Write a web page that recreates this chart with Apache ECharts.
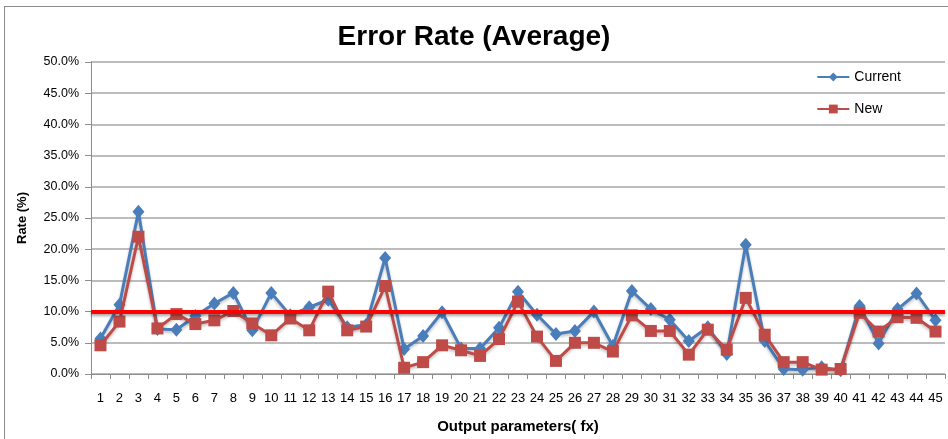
<!DOCTYPE html>
<html>
<head>
<meta charset="utf-8">
<script src="https://cdn.jsdelivr.net/npm/echarts@6/dist/echarts.min.js"></script>
<style>
  html, body { margin: 0; padding: 0; background: #fff; }
  #frame { position: absolute; left: 4px; top: 6px; width: 960px; height: 450px; border: 1px solid #8c8c8c; }
  #chart { position: absolute; left: 0; top: 0; width: 948px; height: 439px; }
</style>
</head>
<body>
<div id="frame"></div>
<div id="chart"></div>
<script>
// categories: output parameters 1..45
var categories = ['1','2','3','4','5','6','7','8','9','10','11','12','13','14','15','16','17','18','19','20','21','22','23','24','25','26','27','28','29','30','31','32','33','34','35','36','37','38','39','40','41','42','43','44','45'];

// error rate in %
var current = [5.7, 11.1, 26.0, 7.2, 7.1, 9.3, 11.3, 13.0, 7.0, 13.0, 9.4, 10.7, 11.9, 7.5, 7.9, 18.6, 4.0, 6.1, 9.9, 4.1, 4.1, 7.4, 13.2, 9.5, 6.4, 6.9, 10.0, 4.5, 13.3, 10.4, 8.7, 5.3, 7.5, 3.2, 20.7, 5.3, 0.8, 0.7, 1.1, 0.6, 10.9, 4.9, 10.4, 12.9, 8.6];
var newer   = [4.6, 8.4, 22.0, 7.3, 9.6, 8.0, 8.6, 10.1, 8.1, 6.2, 8.9, 7.0, 13.2, 7.0, 7.6, 14.1, 1.0, 1.9, 4.6, 3.8, 2.9, 5.6, 11.6, 6.0, 2.1, 5.0, 5.0, 3.6, 9.4, 6.9, 6.9, 3.1, 7.1, 3.9, 12.2, 6.3, 1.9, 1.9, 0.7, 0.8, 9.8, 6.8, 9.1, 9.0, 6.8];

var threshold = 10;

var font = '"Liberation Sans Narrow", "Arial Narrow", "Liberation Sans", Arial, sans-serif';

var chart = echarts.init(document.getElementById('chart'), null, { renderer: 'canvas' });
chart.setOption({
    animation: false,
    backgroundColor: 'transparent',
    title: {
        text: 'Error Rate (Average)',
        left: 'center',
        top: 23,
        padding: [0, 0, 0, 0],
        textStyle: { fontFamily: 'Liberation Sans, Arial, sans-serif', fontWeight: 'bold', fontSize: 28, color: '#000' }
    },
    legend: {
        orient: 'vertical',
        right: 42,
        top: 65,
        itemGap: 18,
        itemWidth: 32,
        itemHeight: 11,
        textStyle: { fontFamily: 'Liberation Sans, Arial, sans-serif', fontSize: 14, color: '#000' },
        data: ['Current', 'New']
    },
    grid: { left: 91, right: 3, top: 62, bottom: 62 },
    xAxis: {
        type: 'category',
        data: categories,
        boundaryGap: true,
        name: 'Output parameters( fx)',
        nameLocation: 'middle',
        nameGap: 45,
        nameTextStyle: { fontFamily: font, fontWeight: 'bold', fontSize: 15, color: '#000' },
        axisLine: { lineStyle: { color: '#8c8c8c', width: 1 } },
        axisTick: { show: true, alignWithLabel: false, length: 5, lineStyle: { color: '#8c8c8c' } },
        axisLabel: { interval: 0, margin: 18, fontFamily: font, fontSize: 13, color: '#000' },
        splitLine: { show: false }
    },
    yAxis: {
        type: 'value',
        min: 0,
        max: 50,
        interval: 5,
        name: 'Rate (%)',
        nameLocation: 'middle',
        nameGap: 62,
        nameRotate: 90,
        nameTextStyle: { fontFamily: font, fontWeight: 'bold', fontSize: 13, color: '#000' },
        axisLine: { show: true, lineStyle: { color: '#8c8c8c', width: 1 } },
        axisTick: { show: true, length: 6, lineStyle: { color: '#8c8c8c' } },
        axisLabel: {
            margin: 12,
            fontFamily: font,
            fontSize: 12.5,
            color: '#000',
            formatter: function (v) { return v.toFixed(1) + '%'; }
        },
        splitLine: { show: true, lineStyle: { color: '#a6a6a6', width: 1.5 } }
    },
    series: [
        {
            name: 'Current',
            type: 'line',
            data: current,
            symbol: 'diamond',
            symbolSize: [12, 14],
            itemStyle: { color: '#4a7ebb' },
            lineStyle: { color: '#4a7ebb', width: 3, shadowColor: 'rgba(0,0,0,0.25)', shadowBlur: 3, shadowOffsetY: 2 },
            z: 3
        },
        {
            name: 'New',
            type: 'line',
            data: newer,
            symbol: 'rect',
            symbolSize: 12,
            itemStyle: { color: '#be4b48' },
            lineStyle: { color: '#be4b48', width: 3, shadowColor: 'rgba(0,0,0,0.25)', shadowBlur: 3, shadowOffsetY: 2 },
            z: 4,
            markLine: {
                silent: true,
                symbol: ['none', 'none'],
                label: { show: false },
                lineStyle: { color: '#ff0000', width: 4, type: 'solid', shadowColor: 'rgba(0,0,0,0.35)', shadowBlur: 3, shadowOffsetY: 2 },
                data: [{ yAxis: threshold }],
                z: 5
            }
        }
    ]
});
</script>
</body>
</html>
